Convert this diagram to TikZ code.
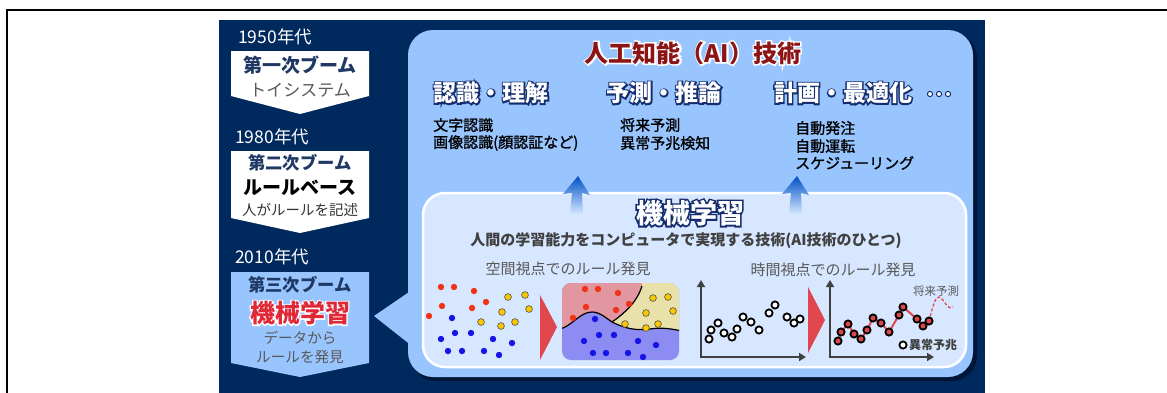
\documentclass[tikz,border=0pt]{standalone}
\usepackage{fontspec}
\setmainfont{Noto Sans CJK JP}
\usetikzlibrary{arrows.meta}
\definecolor{navybg}{RGB}{0,41,94}
\definecolor{shadowc}{RGB}{0,22,55}
\definecolor{lblue}{RGB}{153,197,255}
\definecolor{innerc}{RGB}{214,231,255}
\definecolor{boxnavy}{RGB}{31,56,100}
\definecolor{glownavy}{RGB}{20,45,110}
\definecolor{txtgray}{RGB}{89,89,89}
\definecolor{titlered}{RGB}{140,20,20}
\definecolor{mlred}{RGB}{225,40,55}
\definecolor{dotred}{RGB}{240,50,25}
\definecolor{dotblue}{RGB}{20,20,230}
\definecolor{dotyellow}{RGB}{250,200,0}
\definecolor{trired}{RGB}{224,71,76}
\definecolor{regred}{RGB}{226,150,160}
\definecolor{regyellow}{RGB}{232,226,170}
\definecolor{regblue}{RGB}{140,140,242}
\definecolor{axisgray}{RGB}{64,64,64}
\definecolor{arrowblue}{RGB}{0,80,200}
\tikzset{
  fsz/.style={font=\fontsize{#1}{#1}\selectfont},
  year/.style={fsz=17.5, text=white, anchor=west, inner sep=0},
  ctext/.style={inner sep=0, anchor=center},
  item/.style={anchor=west, inner sep=0, text=black, font=\fontsize{15}{15}\selectfont\addfontfeature{FakeBold=1.2}},
  heading/.style={inner sep=0, text=white, font=\fontsize{23}{23}\selectfont\bfseries},
  headglow/.style={inner sep=0, text=glownavy, font=\fontsize{23}{23}\selectfont\bfseries\addfontfeature{FakeBold=12}},
  rdot/.style={fill=dotred, draw=none},
  bdot/.style={fill=dotblue, draw=none},
  ydot/.style={fill=dotyellow, draw=black!70, line width=0.6pt},
  tdot/.style={draw=black, line width=1.8pt, fill=white},
  tdotr/.style={draw=black, line width=1.8pt, fill=trired},
  axis/.style={draw=axisgray, line width=2.6pt, -{Triangle[width=8pt,length=7pt]}},
  upar/.style={top color=arrowblue, middle color=arrowblue!85!innerc, bottom color=innerc, draw=none},
}
\begin{document}
\begin{tikzpicture}[x=1pt,y=-1pt]
\useasboundingbox (0,0) rectangle (1167,392);
\fill[white] (0,0) rectangle (1167,392);
% outer frame
\draw[black, line width=1.5pt] (7,400) -- (7,10) -- (1175,10);
% navy panel
\fill[navybg] (219,20) rectangle (985,400);
% big light blue panel with shadow
\fill[shadowc, rounded corners=25pt] (411,33) rectangle (977,381);
\fill[lblue, rounded corners=25pt] (408,30) rectangle (973,377);
% callout triangle
\fill[lblue] (412,290) -- (374,316) -- (412,346) -- cycle;
% left column boxes
\fill[white] (231,51) -- (369,51) -- (369,96) -- (300,114) -- (231,96) -- cycle;
\fill[white] (231,151) -- (369,151) -- (369,218) -- (300,233) -- (231,218) -- cycle;
\fill[lblue] (231,272) -- (369,272) -- (369,363) -- (300,377) -- (231,363) -- cycle;
\node[year] (y1) at (238,37) {1950年代};
\node[year] (y2) at (235,137) {1980年代};
\node[year] (y3) at (235,257) {2010年代};
\node[ctext, text=boxnavy, font=\fontsize{19}{19}\selectfont\bfseries] (b1a) at (300,65) {第一次ブーム};
\node[ctext, text=txtgray, fsz=17] (b1b) at (300,90) {トイシステム};
\node[ctext, text=boxnavy, font=\fontsize{17.3}{17}\selectfont\bfseries] (b2a) at (300,163) {第二次ブーム};
\node[ctext, text=black, font=\fontsize{19}{19}\selectfont\bfseries] (b2b) at (300,188) {ルールベース};
\node[ctext, text=black!80, fsz=14.5] (b2c) at (300,210) {人がルールを記述};
\node[ctext, text=boxnavy, font=\fontsize{17.3}{17}\selectfont\bfseries] (b3a) at (300,285) {第三次ブーム};
\node[ctext, text=white, font=\fontsize{25}{25}\selectfont\bfseries\addfontfeature{FakeBold=10}] (b3bg) at (300,313) {機械学習};
\node[ctext, text=mlred, font=\fontsize{25}{25}\selectfont\bfseries] (b3b) at (300,313) {機械学習};
\node[ctext, text=txtgray, fsz=14.6] (b3c) at (300,338) {データから};
\node[ctext, text=txtgray, fsz=14.6] (b3d) at (300,357) {ルールを発見};
% title
\node[ctext, text=white, font=\fontsize{24}{24}\selectfont\bfseries\addfontfeature{FakeBold=12}] (titleg) at (693,53) {人工知能（AI）技術};
\node[ctext, text=titlered, font=\fontsize{24}{24}\selectfont\bfseries] (title) at (693,53) {人工知能（AI）技術};
% headings
\node[headglow] (h1g) at (491,93) {認識・理解};
\node[heading] (h1) at (491,93) {認識・理解};
\node[headglow] (h2g) at (664,93) {予測・推論};
\node[heading] (h2) at (664,93) {予測・推論};
\node[headglow] (h3g) at (843,93) {計画・最適化};
\node[heading] (h3) at (843,93) {計画・最適化};
\foreach \xx in {930,939,948} \filldraw[fill=white, draw=glownavy, line width=1pt] (\xx,94) circle (2.6pt);
% items
\node[item] (i1) at (433,125) {文字認識};
\node[item] (i2) at (433,143) {画像認識(顔認証など)};
\node[item] (i3) at (620,125) {将来予測};
\node[item] (i4) at (620,143) {異常予兆検知};
\node[item] (i5) at (795,128) {自動発注};
\node[item] (i6) at (795,146) {自動運転};
\node[item] (i7) at (795,163) {スケジューリング};
% ML box
\filldraw[fill=innerc, draw=white, line width=2.5pt, rounded corners=22pt] (423,193) rectangle (966,367);
% blue up arrows
\shade[upar] (570,214) -- (572,193) -- (563,194) -- (578,176) -- (590,195) -- (582,193) -- (583,214) -- cycle;
\shade[upar] (789,214) -- (791,193) -- (782,194) -- (797,176) -- (809,195) -- (801,193) -- (802,214) -- cycle;
\node[ctext, text=glownavy, font=\fontsize{27}{27}\selectfont\bfseries\addfontfeature{FakeBold=12}] (mlg) at (690,213) {機械学習};
\node[ctext, text=white, font=\fontsize{27}{27}\selectfont\bfseries] (ml) at (690,213) {機械学習};
\node[ctext, text=black!75, font=\fontsize{15}{15}\selectfont\bfseries] (mlsub) at (686,241) {人間の学習能力をコンピュータで実現する技術(AI技術のひとつ)};
\node[ctext, text=txtgray, fsz=15] (sp) at (568,269) {空間視点でのルール発見};
\node[ctext, text=txtgray, fsz=15] (tp) at (833,270) {時間視点でのルール発見};
% left scatter
\foreach \p in {(441,287),(454,287),(474,291),(442,306),(486,302),(472,308),(429,316)} \fill[rdot] \p circle (3.2pt);
\foreach \p in {(452,318),(455,333),(471,333),(441,339),(493,339),(512,343),(448,351),(462,351),(484,351),(499,355)} \fill[bdot] \p circle (3.2pt);
\foreach \p in {(508,297),(525,295),(502,312),(529,309),(481,322),(501,326),(515,322)} \filldraw[ydot] \p circle (3.4pt);
% red triangle 1
\fill[trired] (540,295) -- (557,327) -- (540,360) -- cycle;
% classified region
\begin{scope}
\clip[rounded corners=9pt] (562,283) rectangle (679,360);
\fill[regblue] (560,280) rectangle (682,363);
\fill[regred] (560,280) -- (642,280) -- (642,286) .. controls (637,302) and (625,313) .. (612,322) .. controls (606,318) and (600,312) .. (592,312) .. controls (580,312) and (572,326) .. (560,329) -- cycle;
\fill[regyellow] (642,280) -- (682,280) -- (682,331) .. controls (672,329) and (662,327) .. (650,329) .. controls (635,331) and (624,328) .. (612,322) .. controls (625,313) and (637,302) .. (642,286) -- cycle;
\draw[black, line width=1.2pt] (560,329) .. controls (572,326) and (580,312) .. (592,312) .. controls (600,312) and (606,318) .. (612,322) .. controls (624,328) and (635,331) .. (650,329) .. controls (662,327) and (672,329) .. (682,331);
\draw[black, line width=1.2pt] (642,286) .. controls (637,302) and (625,313) .. (612,322);
\end{scope}
\foreach \p in {(585,289),(598,289),(618,293),(629,304),(586,307),(616,310),(573,318)} \fill[rdot] \p circle (3.2pt);
\foreach \p in {(653,298),(668,297),(646,313),(673,311),(625,324),(646,328),(658,324)} \filldraw[ydot] \p circle (3.4pt);
\foreach \p in {(595,319),(599,335),(614,335),(584,341),(638,341),(656,345),(593,353),(606,353),(628,353),(643,357)} \fill[bdot] \p circle (3.2pt);
% time plot 1
\coordinate (o1) at (701,357);
\coordinate (o1y) at (701,280);
\coordinate (o1x) at (806,357);
\draw[axis] (o1) -- (o1y);
\draw[axis] ([xshift=-1.3pt]o1) -- (o1x);
\foreach \p in {(709,339),(711,330),(718,323),(724,333),(732,337),(737,329),(743,317),(751,322),(759,330),(769,313),(775,305),(787,317),(794,323),(800,319)} \filldraw[tdot] \p circle (3.6pt);
% red triangle 2
\fill[trired] (808,287) -- (825,320) -- (808,353) -- cycle;
% time plot 2
\coordinate (o2) at (830,357);
\coordinate (o2y) at (830,280);
\coordinate (o2x) at (934,357);
\draw[axis] (o2) -- (o2y);
\draw[axis] ([xshift=-1.3pt]o2) -- (o2x);
\draw[trired, line width=2pt] (838,341) -- (841,332) -- (848,324) -- (854,334) -- (861,339) -- (867,330) -- (873,318) -- (881,323) -- (889,332) -- (899,315) -- (903,307) -- (917,319) -- (923,326) -- (929,321);
\draw[trired, line width=1.3pt, dash pattern=on 3pt off 2pt] (929,321) .. controls (933,306) and (935,297) .. (939,297) .. controls (944,298) and (947,311) .. (953,307);
\foreach \p in {(838,341),(841,332),(848,324),(854,334),(861,339),(867,330),(873,318),(881,323),(889,332),(899,315),(903,307),(917,319),(923,326),(929,321)} \filldraw[tdotr] \p circle (3.6pt);
\node[ctext, text=txtgray, fsz=11.5] (fut) at (936,291) {将来予測};
\filldraw[tdot] (903,345) circle (3.6pt);
\node[anchor=west, inner sep=0, text=black!75, font=\fontsize{12}{12}\selectfont\bfseries] (anom) at (909,345) {異常予兆};
\end{tikzpicture}
\end{document}
